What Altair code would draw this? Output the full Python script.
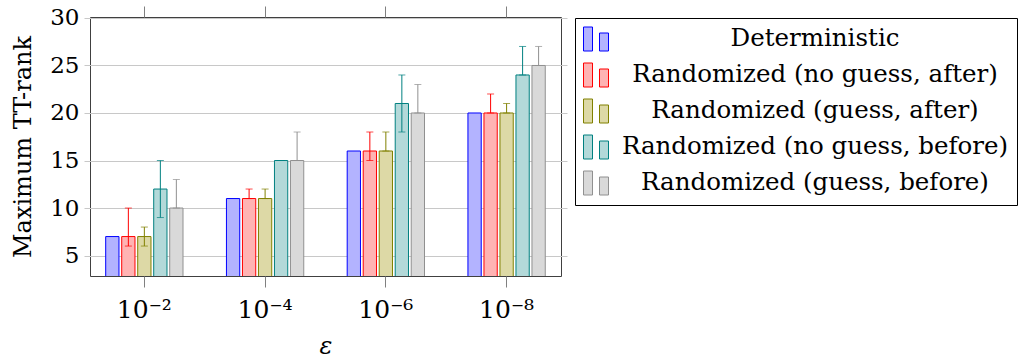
import altair as alt
import pandas as pd

eps_labels = ["10⁻²", "10⁻⁴", "10⁻⁶", "10⁻⁸"]
series = [
    "Deterministic",
    "Randomized (no guess, after)",
    "Randomized (guess, after)",
    "Randomized (no guess, before)",
    "Randomized (guess, before)",
]

# values per series (one per epsilon)
det_val = [7, 11, 16, 20]
rna_val = [7, 11, 16, 20]
rna_lo = [6, 11, 15, 20]
rna_hi = [10, 12, 18, 22]
rga_val = [7, 11, 16, 20]
rga_lo = [6, 11, 16, 20]
rga_hi = [8, 12, 18, 21]
rnb_val = [12, 15, 21, 24]
rnb_lo = [9, 15, 18, 24]
rnb_hi = [15, 15, 24, 27]
rgb_val = [10, 15, 20, 25]
rgb_lo = [10, 15, 20, 25]
rgb_hi = [13, 18, 23, 27]

fills = ["#b3b3ff", "#ffb3b3", "#ddd9a6", "#b3d9d9", "#d9d9d9"]
strokes = ["#0000ff", "#ff0000", "#808000", "#008080", "#909090"]

rows = []
err_rows = []
all_vals = [det_val, rna_val, rga_val, rnb_val, rgb_val]
all_lo = [None, rna_lo, rga_lo, rnb_lo, rgb_lo]
all_hi = [None, rna_hi, rga_hi, rnb_hi, rgb_hi]
for s, vals, los, his in zip(series, all_vals, all_lo, all_hi):
    for i, e in enumerate(eps_labels):
        rows.append({"eps": e, "series": s, "value": vals[i]})
        if los is not None:
            err_rows.append({"eps": e, "series": s, "lo": los[i], "hi": his[i]})
df = pd.DataFrame(rows)
edf = pd.DataFrame(err_rows)

FONT = "DejaVu Serif"

xscale = alt.Scale(domain=eps_labels, range=[-6, 477], paddingInner=0, paddingOuter=0)
xoff_scale = alt.Scale(domain=series, range=[21.7, 99.0], paddingInner=0.17, paddingOuter=0)
yscale = alt.Scale(domain=[2.85, 30.1], nice=False, zero=False)
fill_scale = alt.Scale(domain=series, range=fills)
stroke_scale = alt.Scale(domain=series, range=strokes)

symbol_path = "M-1,-0.96H-0.28V0.96H-1Z M0.28,-0.48H1V0.96H0.28Z"

legend = alt.Legend(
    title=None,
    orient="none",
    legendX=485,
    legendY=1,
    direction="vertical",
    symbolType=symbol_path,
    symbolSize=625,
    symbolStrokeWidth=1,
    labelFont=FONT,
    labelFontSize=24.5,
    labelColor="black",
    labelAlign="center",
    labelOffset=206,
    labelLimit=0,
    strokeColor="black",
    fillColor="white",
    padding=8,
    rowPadding=8,
)

bars = alt.Chart(df).mark_bar(strokeWidth=1, clip=True).encode(
    x=alt.X(
        "eps:N",
        sort=eps_labels,
        scale=xscale,
        axis=alt.Axis(
            title="ε",
            orient="bottom",
            domain=False,
            grid=False,
            ticks=True,
            tickSize=11,
            tickColor="#808080",
            labelAngle=0,
            labelFont=FONT,
            labelFontSize=25,
            labelColor="black",
            labelPadding=10,
            titleFont=FONT,
            titleFontSize=24,
            titleFontStyle="italic",
            titleFontWeight="normal",
            titleColor="black",
            titlePadding=12,
        ),
    ),
    xOffset=alt.XOffset("series:N", sort=series, scale=xoff_scale),
    y=alt.Y(
        "value:Q",
        scale=yscale,
        axis=alt.Axis(
            title="Maximum TT-rank",
            values=[5, 10, 15, 20, 25, 30],
            domain=False,
            ticks=False,
            grid=True,
            gridColor="#c8c8c8",
            gridWidth=1,
            labelFont=FONT,
            labelFontSize=23,
            labelColor="black",
            labelPadding=11,
            titleFont=FONT,
            titleFontSize=24,
            titleFontWeight="normal",
            titleColor="black",
            titlePadding=14,
        ),
    ),
    fill=alt.Fill("series:N", sort=series, scale=fill_scale, legend=legend),
    stroke=alt.Stroke("series:N", sort=series, scale=stroke_scale, legend=legend),
)

stems = alt.Chart(edf).mark_rule(strokeWidth=1).encode(
    x=alt.X(
        "eps:N",
        sort=eps_labels,
        scale=xscale,
        axis=alt.Axis(
            orient="top",
            title=None,
            labels=False,
            domain=False,
            grid=False,
            ticks=True,
            tickSize=11,
            tickColor="#808080",
        ),
    ),
    xOffset=alt.XOffset("series:N", sort=series, scale=xoff_scale),
    y=alt.Y("lo:Q", scale=yscale, axis=None),
    y2="hi:Q",
    stroke=alt.Stroke("series:N", sort=series, scale=stroke_scale, legend=legend),
)

caps_hi = alt.Chart(edf).mark_tick(orient="horizontal", size=7, thickness=1).encode(
    x=alt.X("eps:N", sort=eps_labels, scale=xscale, axis=None),
    xOffset=alt.XOffset("series:N", sort=series, scale=xoff_scale),
    y=alt.Y("hi:Q", scale=yscale, axis=None),
    color=alt.Color("series:N", sort=series, scale=stroke_scale, legend=None),
)

caps_lo = alt.Chart(edf).mark_tick(orient="horizontal", size=7, thickness=1).encode(
    x=alt.X("eps:N", sort=eps_labels, scale=xscale, axis=None),
    xOffset=alt.XOffset("series:N", sort=series, scale=xoff_scale),
    y=alt.Y("lo:Q", scale=yscale, axis=None),
    color=alt.Color("series:N", sort=series, scale=stroke_scale, legend=None),
)

chart = (
    alt.layer(bars, stems, caps_hi, caps_lo)
    .resolve_axis(x="independent", y="independent")
    .properties(
        width=471,
        height=259,
        autosize=alt.AutoSizeParams(type="none"),
        padding={"left": 90, "top": 17, "right": 463, "bottom": 82},
        background="white",
    )
    .configure_view(stroke="#404040", strokeWidth=1)
)

chart.save("out.html", embed_options={"renderer": "svg", "actions": False})
